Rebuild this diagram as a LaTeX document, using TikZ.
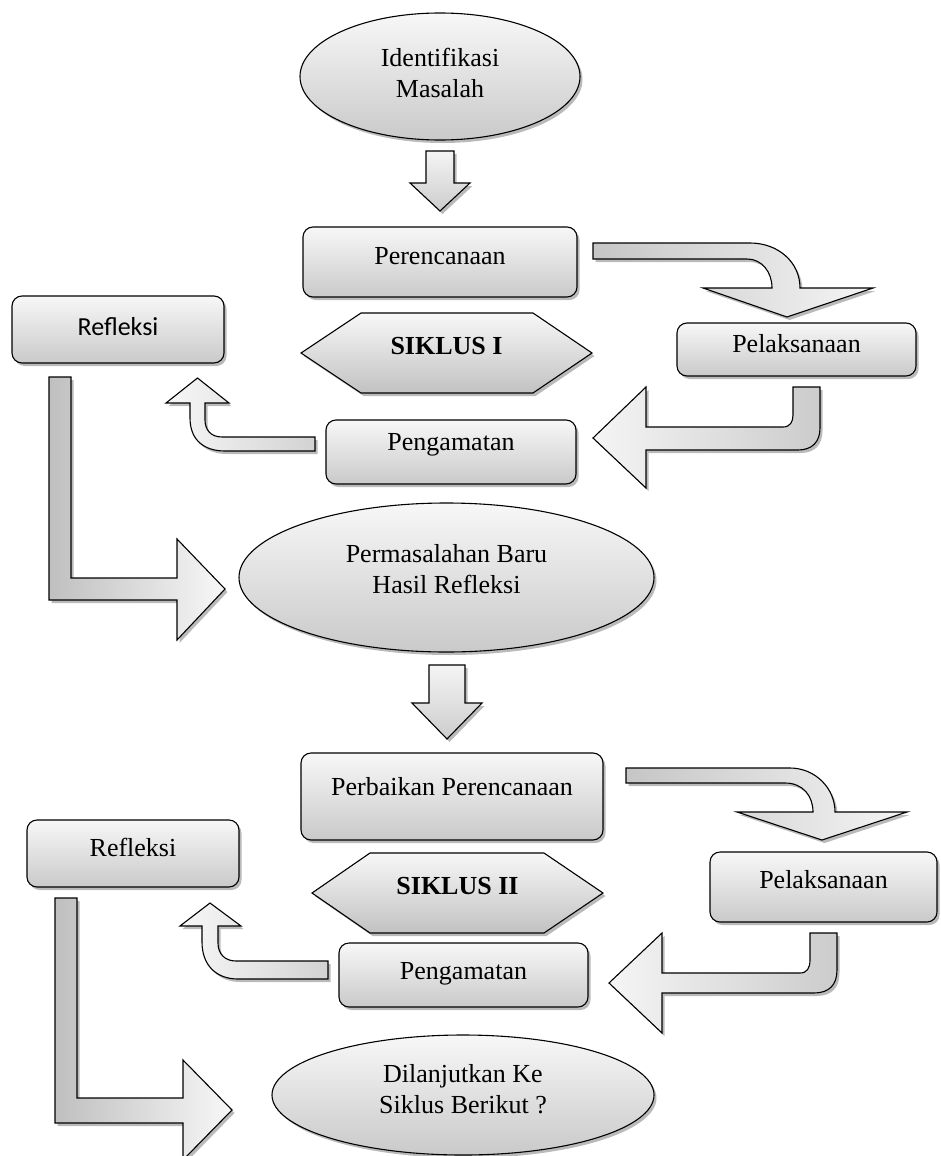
\documentclass[tikz,border=0pt]{standalone}
\usepackage{fontspec}
\setmainfont{Liberation Serif}
\newfontfamily\carlito{Carlito}
\usetikzlibrary{shapes.geometric,shadows}
\begin{document}
\begin{tikzpicture}[x=1pt,y=-1pt,
  font=\fontsize{26}{31}\selectfont,
  sh/.style={drop shadow={shadow xshift=2.5pt,shadow yshift=-3pt,fill=black!60,opacity=.45}},
  outl/.style={draw=black,line width=1.1pt,line join=miter},
  boxnode/.style={outl,rounded corners=10pt,top color=gray!6,bottom color=gray!42,sh,inner sep=0pt,text height=17pt},
  ellnode/.style={ellipse,outl,top color=gray!6,bottom color=gray!42,sh,inner sep=0pt},
  hexshape/.style={outl,top color=gray!6,bottom color=gray!48,sh},
  arrowv/.style={outl,sh,top color=gray!8,bottom color=gray!40},
  arrowlr/.style={outl,sh,left color=gray!45,right color=gray!8},
  arrowrl/.style={outl,sh,left color=gray!8,right color=gray!40},
  txt/.style={inner sep=0pt,align=center}
]
\useasboundingbox (0,0) rectangle (940,1156);

% ---------- block arrows, cycle I ----------
\draw[arrowv] (426,151) -- (454,151) -- (454,183) -- (470,183) -- (440,211) -- (410,183) -- (426,183) -- cycle;
\draw[arrowlr] (593,243) -- (750,243) .. controls (778,243) and (800,262) .. (800,288) -- (873,288) -- (787,317) -- (703,288) -- (772,288) .. controls (772,272) and (762,259) .. (747,259) -- (593,259) -- cycle;
\draw[arrowrl] (793,387) -- (820,387) -- (820,428) .. controls (820,442) and (812,450) .. (798,450) -- (646,450) -- (646,488) -- (593,438) -- (646,387) -- (646,427) -- (783,427) .. controls (790,427) and (793,422) .. (793,415) -- cycle;
\draw[outl,sh,left color=gray!6,right color=gray!35] (315,437) -- (222,437) .. controls (211,437) and (205,430) .. (205,420) -- (205,403) -- (229,403) -- (197.5,378) -- (166,403) -- (190,403) -- (190,418) .. controls (190,440) and (204,451) .. (225,451) -- (315,451) -- cycle;
\draw[outl,sh,left color=gray!50,right color=gray!6] (49,377) -- (71,377) -- (71,578) -- (177,578) -- (177,539) -- (225,589) -- (177,640) -- (177,600) -- (49,600) -- cycle;
\draw[arrowv] (429,665) -- (465,665) -- (465,703) -- (482,703) -- (447,739) -- (412,703) -- (429,703) -- cycle;

% ---------- block arrows, cycle II ----------
\draw[arrowlr] (626,768) -- (790,768) .. controls (815,768) and (835,788) .. (835,812) -- (907,812) -- (822,840) -- (737,812) -- (813,812) .. controls (813,796) and (803,783) .. (785,783) -- (626,783) -- cycle;
\draw[arrowrl] (810,933) -- (837,933) -- (837,970) .. controls (837,985) and (829,993) .. (814,993) -- (662,993) -- (662,1033) -- (609,983) -- (662,933) -- (662,973) -- (800,973) .. controls (807,973) and (810,968) .. (810,960) -- cycle;
\draw[outl,sh,left color=gray!6,right color=gray!35] (328,961) -- (236,961) .. controls (225,961) and (218,954) .. (218,943) -- (218,926) -- (241,926) -- (210,903) -- (180,926) -- (202,926) -- (202,942) .. controls (202,965) and (216,979) .. (238,979) -- (328,979) -- cycle;
\draw[outl,sh,left color=gray!50,right color=gray!6] (55,898) -- (77,898) -- (77,1098) -- (183,1098) -- (183,1060) -- (232,1110) -- (183,1160) -- (183,1123) -- (55,1123) -- cycle;

% ---------- hexagons ----------
\draw[hexshape] (301,353) -- (361,313) -- (533,313) -- (592,353) -- (533,393) -- (361,393) -- cycle;
\draw[hexshape] (312,893) -- (370,853) -- (544,853) -- (603,893) -- (544,933) -- (370,933) -- cycle;
\node[txt,font=\fontsize{26}{31}\selectfont\bfseries] (s1) at (446.5,346) {SIKLUS I};
\node[txt,font=\fontsize{26}{31}\selectfont\bfseries] (s2) at (457.5,886) {SIKLUS II};

% ---------- ellipses ----------
\node[ellnode,minimum width=280pt,minimum height=127pt] (idm) at (440,76.5) {};
\node[txt] (idmt) at (440,73) {Identifikasi\\Masalah};
\node[ellnode,minimum width=415pt,minimum height=149pt] (pbr) at (446.5,577.5) {};
\node[txt] (pbrt) at (446.5,569) {Permasalahan Baru\\Hasil Refleksi};
\node[ellnode,minimum width=382pt,minimum height=120pt] (lanj) at (463,1095) {};
\node[txt] (lanjt) at (463,1089) {Dilanjutkan Ke\\Siklus Berikut ?};

% ---------- boxes ----------
\node[boxnode,minimum width=274pt,minimum height=70pt,text depth=13pt] (per1) at (440,262) {Perencanaan};
\node[boxnode,minimum width=212pt,minimum height=67pt,text depth=6pt,font=\carlito\fontsize{26}{31}\selectfont] (ref1) at (118,329.5) {Refleksi};
\node[boxnode,minimum width=239pt,minimum height=53pt,text depth=12pt] (pel1) at (796.5,349.5) {Pelaksanaan};
\node[boxnode,minimum width=250pt,minimum height=64pt,text depth=20pt] (pen1) at (451,452) {Pengamatan};
\node[boxnode,minimum width=302pt,minimum height=87pt,text depth=20pt] (per2) at (452,796.5) {Perbaikan Perencanaan};
\node[boxnode,minimum width=212pt,minimum height=67pt,text depth=12pt] (ref2) at (133,853.5) {Refleksi};
\node[boxnode,minimum width=227pt,minimum height=70pt,text depth=15pt] (pel2) at (823.5,887) {Pelaksanaan};
\node[boxnode,minimum width=249pt,minimum height=64pt,text depth=8pt] (pen2) at (463.5,975) {Pengamatan};
\end{tikzpicture}
\end{document}
